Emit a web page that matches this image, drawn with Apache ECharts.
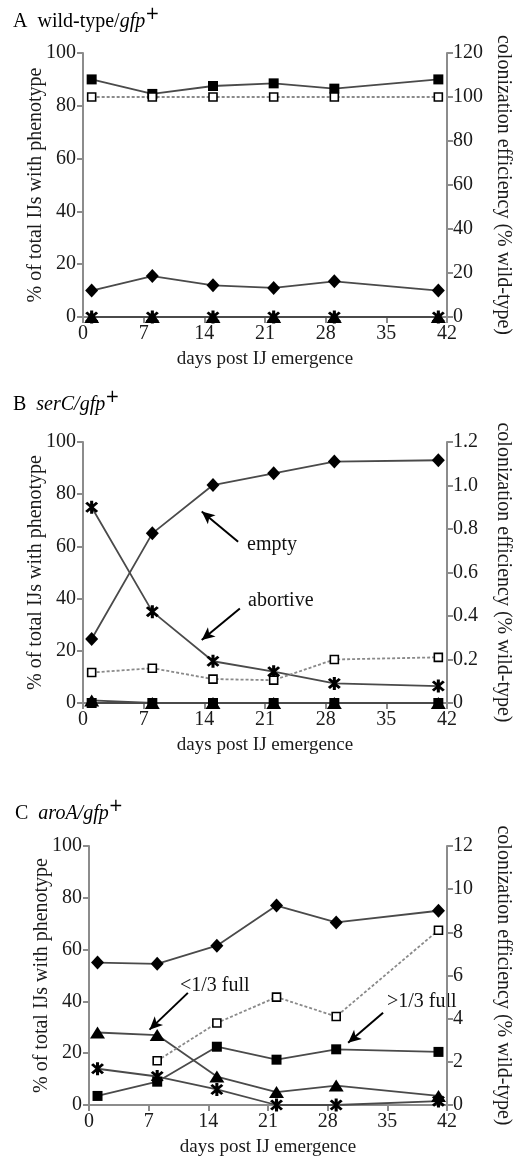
<!DOCTYPE html>
<html>
<head>
<meta charset="utf-8">
<script src="https://cdn.jsdelivr.net/npm/echarts@6/dist/echarts.min.js"></script>
<style>
  html, body { margin: 0; padding: 0; background: #fff; }
  #chart { width: 521px; height: 1158px; }
  #fontwarm { position: absolute; left: -999px; font: 20px "Liberation Serif"; }
</style>
</head>
<body>
<span id="fontwarm">0123456789 days</span>
<div id="chart"></div>
<script>
// sampling days (x)
const days = [1, 8, 15, 22, 29, 41];

// panel A: wild-type/gfp+
const aFullSquare = [90, 84.5, 87.5, 88.5, 86.5, 90];
const aEmptyDiamond = [10, 15.5, 12, 11, 13.5, 10];
const aAbortive = [0, 0, 0, 0, 0, 0];
const aPartTriangle = [0, 0, 0, 0, 0, 0];
const aColonization = [100, 100, 100, 100, 100, 100];

// panel B: serC/gfp+
const bFullSquare = [0, 0, 0, 0, 0, 0];
const bEmptyDiamond = [24.5, 65, 83.5, 88, 92.5, 93];
const bAbortive = [75, 35, 16, 12, 7.5, 6.5];
const bPartTriangle = [1, 0, 0, 0, 0, 0];
const bColonization = [0.14, 0.16, 0.11, 0.105, 0.2, 0.21];

// panel C: aroA/gfp+
const cFullSquare = [3.5, 9, 22.5, 17.5, 21.5, 20.5];
const cEmptyDiamond = [55, 54.5, 61.5, 77, 70.5, 75];
const cAbortive = [14, 11, 6, 0, 0, 1.5];
const cPartTriangle = [28, 27, 11, 5, 7.5, 3.5];
const cColonization = [null, 2.05, 3.8, 5, 4.1, 8.1];

const xTicks = { min: 0, max: 42, interval: 7 };

const FONT = "'Liberation Serif', 'Times New Roman', serif";
const AXIS_GRAY = "#8c8c8c";
const LINE_GRAY = "#4a4a4a";
const ASTERISK = "path://M8 0L12 0L12 20L8 20Z M1.51 4.34L4.34 1.51L18.49 15.66L15.66 18.49Z M15.66 1.51L18.49 4.34L4.34 18.49L1.51 15.66Z";

const pairs = ys => days.map((d, i) => [d, ys[i]]).filter(p => p[1] !== null);

const chart = echarts.init(document.getElementById("chart"), null, { renderer: "canvas" });

const grids = [
  { left: 83, top: 53, width: 375, height: 264 },
  { left: 83, top: 442, width: 375, height: 261 },
  { left: 89, top: 846, width: 377, height: 260 }
];

const axisLine = { show: true, lineStyle: { color: AXIS_GRAY, width: 2 } };
const axisTick = { show: true, length: 6, lineStyle: { color: AXIS_GRAY, width: 2 } };
const labelStyle = { color: "#1a1a1a", fontFamily: FONT, fontSize: 20 };

function xAxis(gridIndex) {
  return {
    type: "value", gridIndex, ...xTicks,
    name: "days post IJ emergence", nameLocation: "middle", nameGap: 33, nameMoveOverlap: false,
    nameTextStyle: { ...labelStyle, fontSize: 19 },
    axisLine, axisTick, splitLine: { show: false },
    axisLabel: { ...labelStyle, margin: 7 }
  };
}

function leftAxis(gridIndex) {
  return {
    type: "value", gridIndex, position: "left", min: 0, max: 100, interval: 20,
    name: "% of total IJs with phenotype", nameLocation: "middle", nameGap: 37, nameRotate: 90,
    nameMoveOverlap: false,
    nameTextStyle: labelStyle,
    axisLine, axisTick, splitLine: { show: false },
    axisLabel: { ...labelStyle, margin: 7 }
  };
}

function rightAxis(gridIndex, max, interval, formatter) {
  return {
    type: "value", gridIndex, position: "right", min: 0, max, interval,
    name: "colonization efficiency (% wild-type)", nameLocation: "middle", nameGap: 46, nameRotate: -90,
    nameMoveOverlap: false,
    nameTextStyle: labelStyle,
    axisLine, axisTick, splitLine: { show: false },
    axisLabel: { ...labelStyle, margin: 6, formatter }
  };
}

function lineSeries(name, xi, yi, ys, symbol, size, extra = {}) {
  return {
    name, type: "line", xAxisIndex: xi, yAxisIndex: yi,
    data: pairs(ys), symbol, symbolSize: size, showSymbol: true,
    lineStyle: { color: LINE_GRAY, width: 1.8 },
    itemStyle: { color: "#000" },
    animation: false, silent: true,
    ...extra
  };
}

function colonSeries(xi, yi, ys) {
  return {
    name: "colonization", type: "line", xAxisIndex: xi, yAxisIndex: yi,
    data: pairs(ys), symbol: "rect", symbolSize: 8, connectNulls: false,
    lineStyle: { color: "#8a8a8a", width: 1.8, type: [3, 2] },
    itemStyle: { color: "#fff", borderColor: "#000", borderWidth: 1.6 },
    animation: false, silent: true, z: 3
  };
}

function arrow(from, to) {
  return {
    silent: true, animation: false,
    symbol: ["none", "arrow"], symbolSize: [9, 13],
    label: { show: false },
    lineStyle: { color: "#000", width: 2, type: "solid" },
    data: [[{ coord: from }, { coord: to }]]
  };
}

function panel(g, full, empty, abortive, part, colon) {
  const yl = g * 2, yr = g * 2 + 1;
  return [
    lineSeries("abortive", g, yl, abortive, ASTERISK, 13),
    lineSeries("<1/3 full", g, yl, part, "triangle", [15, 12]),
    lineSeries("empty", g, yl, empty, "diamond", [13, 14]),
    lineSeries(">1/3 full", g, yl, full, "rect", 10),
    colonSeries(g, yr, colon)
  ];
}

const series = [
  ...panel(0, aFullSquare, aEmptyDiamond, aAbortive, aPartTriangle, aColonization),
  ...panel(1, bFullSquare, bEmptyDiamond, bAbortive, bPartTriangle, bColonization),
  ...panel(2, cFullSquare, cEmptyDiamond, cAbortive, cPartTriangle, cColonization)
];

// annotation arrows (data coordinates)
series[7].markLine = arrow([17.9, 61.8], [13.7, 73.4]);   // empty
series[5].markLine = arrow([18.1, 36.2], [13.7, 24.1]);   // abortive
series[11].markLine = arrow([11.6, 43.3], [7.1, 29.1]);   // <1/3 full
series[13].markLine = arrow([34.5, 35.6], [30.4, 24]);    // >1/3 full

const titleRich = {
  n: { fontFamily: FONT, fontSize: 20, color: "#111", verticalAlign: "bottom" },
  i: { fontFamily: FONT, fontSize: 20, fontStyle: "italic", color: "#111", verticalAlign: "bottom" },
  s: { fontFamily: "DejaVu Sans", fontSize: 17, color: "#111", padding: [0, 0, 9, 0], verticalAlign: "bottom" }
};

function titleText(left, top, letter, gene, italicGene) {
  const body = italicGene ? `{i|${gene}}{i|/gfp}{s|+}` : `{n|${gene}/}{i|gfp}{s|+}`;
  return {
    type: "text", left, top, silent: true,
    style: { text: `{n|${letter}}{n|  }` + body, rich: titleRich }
  };
}

function note(left, top, text) {
  return {
    type: "text", left, top, silent: true,
    style: { text, fontFamily: FONT, fontSize: 20, fill: "#111" }
  };
}

const option = {
  animation: false,
  grid: grids,
  xAxis: [xAxis(0), xAxis(1), xAxis(2)],
  yAxis: [
    leftAxis(0), rightAxis(0, 120, 20),
    leftAxis(1), rightAxis(1, 1.2, 0.2, v => (v === 0 ? "0" : v.toFixed(1))),
    leftAxis(2), rightAxis(2, 12, 2)
  ],
  series,
  graphic: [
    titleText(13, 6, "A", "wild-type", false),
    titleText(13, 389, "B", "serC", true),
    titleText(15, 798, "C", "aroA", true),
    note(247, 535, "empty"),
    note(248, 591, "abortive"),
    note(180, 976, "<1/3 full"),
    note(387, 992, ">1/3 full")
  ]
};

chart.setOption(option);
if (document.fonts && document.fonts.ready) {
  document.fonts.ready.then(() => {
    chart.clear();
    chart.setOption(option);
  });
}
</script>
</body>
</html>
